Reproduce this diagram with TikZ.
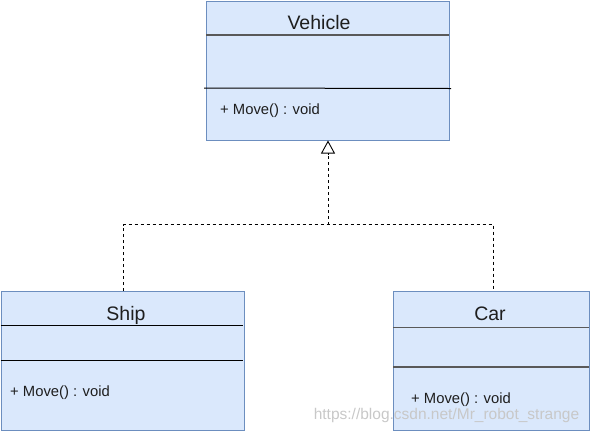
\documentclass[tikz,border=0pt]{standalone}
\usepackage{fontspec}
\setmainfont{Liberation Sans}
\usetikzlibrary{arrows.meta,calc}
\definecolor{boxfill}{HTML}{DAE8FC}
\definecolor{boxdraw}{HTML}{6C8EBF}
\definecolor{txt}{HTML}{1E1E1E}
\definecolor{wm}{HTML}{C8C8C8}
\tikzset{
  umlbox/.style={draw=boxdraw, fill=boxfill, line width=1pt, rectangle, inner sep=0pt, anchor=north west},
  sep/.style={line width=1pt, draw=black},
  septwo/.style={line width=1.2pt, draw=black!65},
  title/.style={font=\fontsize{19.5}{22}\selectfont, text=txt, inner sep=0pt, anchor=base},
  member/.style={font=\fontsize{14.8}{17}\selectfont, text=txt, inner sep=0pt, anchor=base west},
  realize/.style={dashed, dash pattern=on 3pt off 3pt, line width=0.9pt, draw=black},
}
\begin{document}
\begin{tikzpicture}[x=1pt,y=-1pt]
\useasboundingbox (0,0) rectangle (591,432);
% Vehicle
\node[umlbox, minimum width=243pt, minimum height=139pt] (vehicle) at (206,0.5) {};
\draw[septwo] (206,35) -- (449,35);
\draw[sep] (204,88) -- (451,88.5);
\node[title] (vtitle) at (319,29.5) {Vehicle};
\node[member] (vmove) at (220,114.5) {+ Move() : void};
% Ship
\node[umlbox, minimum width=243pt, minimum height=139pt] (ship) at (0.5,291) {};
\draw[sep] (0.5,325) -- (243,325);
\draw[sep] (0.5,360) -- (243,360);
\node[title] (stitle) at (126,320.5) {Ship};
\node[member] (smove) at (10,396.5) {+ Move() : void};
% Car
\node[umlbox, minimum width=196pt, minimum height=139pt] (car) at (393,291) {};
\draw[septwo] (393,327.5) -- (589,327.5);
\draw[septwo] (393,367) -- (589,367);
\node[title] (ctitle) at (490,320.5) {Car};
\node[member] (cmove) at (411,403.5) {+ Move() : void};
% watermark
\node[font=\fontsize{15.5}{17}\selectfont, text=wm, inner sep=0pt, anchor=base] (wmtext) at (446.5,419) {https://blog.csdn.net/Mr\_robot\_strange};
% connectors
\coordinate (j) at ($(vehicle.south)+(0,84)$);
\coordinate (stop) at ($(ship.north)+(0.5,0)$);
\coordinate (ctop) at ($(car.north)+(2,0)$);
\coordinate (atail) at ($(vehicle.south)+(0,14)$);
\draw[realize] (stop) -- (stop |- j) -- (ctop |- j) -- (ctop);
\draw[realize] (j) -- (atail);
\draw[line width=0.9pt, -{Triangle[open, width=14pt, length=13pt]}] (atail) -- (vehicle.south);
\end{tikzpicture}
\end{document}
